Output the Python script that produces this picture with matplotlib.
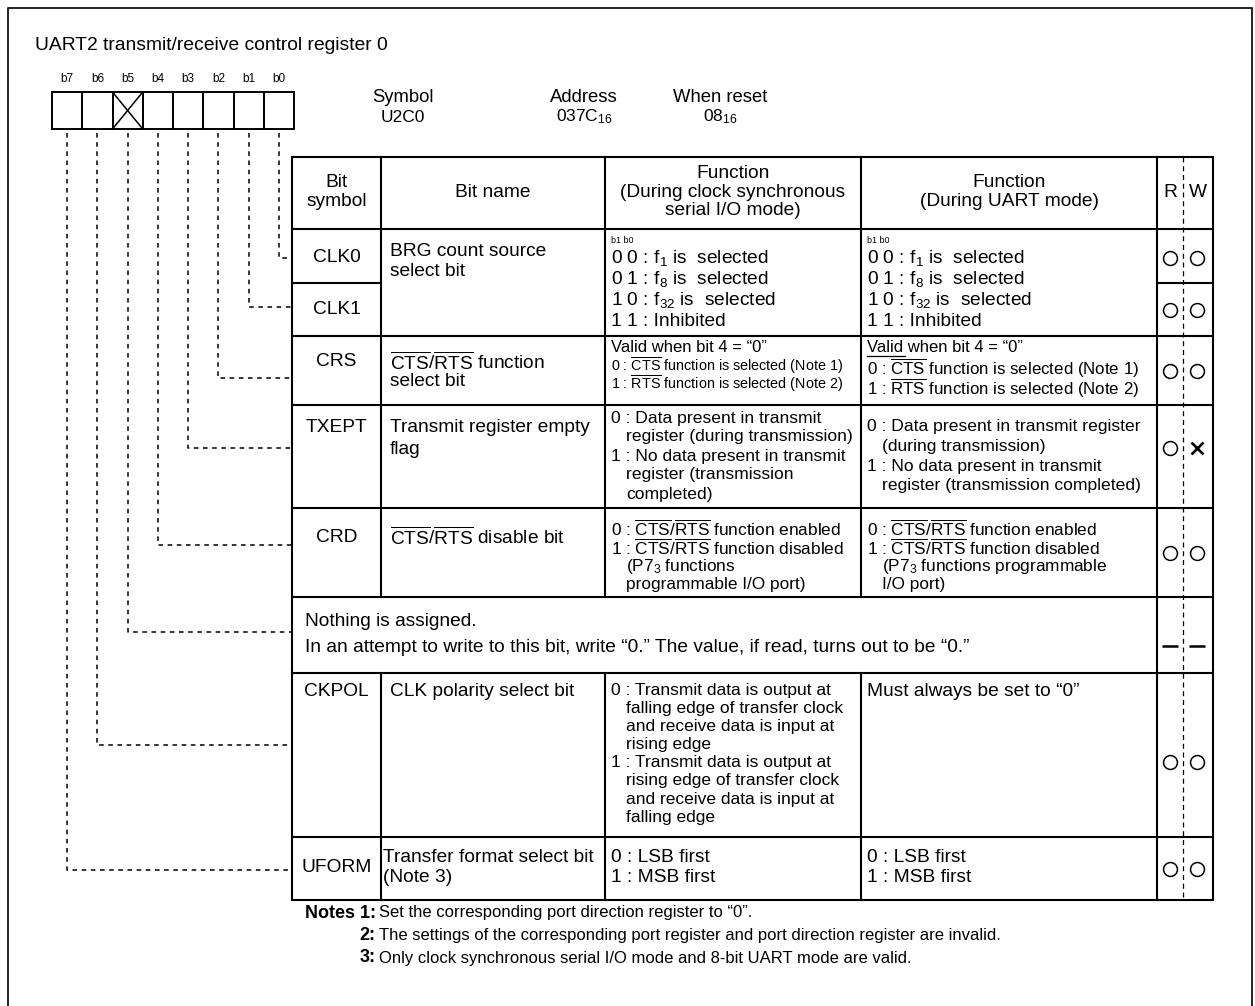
import matplotlib
matplotlib.use('Agg')
from matplotlib import pyplot as plt
from matplotlib.patches import Rectangle

plt.rcParams['font.family'] = ['Liberation Sans', 'DejaVu Sans']
plt.rcParams['mathtext.fontset'] = 'custom'
plt.rcParams['mathtext.rm'] = 'Liberation Sans'
plt.rcParams['mathtext.it'] = 'Liberation Sans'
plt.rcParams['mathtext.bf'] = 'Liberation Sans:bold'

CTS = r'$\overline{\mathrm{CTS}}$'
RTS = r'$\overline{\mathrm{RTS}}$'


def f(n):
    return r'$\mathrm{f_{%s}}$' % n


TITLE = 'UART2 transmit/receive control register 0'
BITS = ['b7', 'b6', 'b5', 'b4', 'b3', 'b2', 'b1', 'b0']
RESERVED = 'b5'
HEAD_KEYS = ['Symbol', 'Address', 'When reset']
HEAD_VALUES = ['U2C0', r'037$\mathrm{C_{16}}$', r'0$\mathrm{8_{16}}$']
COL_HEADS = ['Bit\nsymbol', 'Bit name',
             'Function\n(During clock synchronous\nserial I/O mode)',
             'Function\n(During UART mode)']

SYMBOLS = ['CLK0', 'CLK1', 'CRS', 'TXEPT', 'CRD', '', 'CKPOL', 'UFORM']
SYMBOL_BITS = ['b0', 'b1', 'b2', 'b3', 'b4', 'b5', 'b6', 'b7']
RW = [('o', 'o'), ('o', 'o'), ('o', 'o'), ('o', 'x'), ('o', 'o'),
      ('-', '-'), ('o', 'o'), ('o', 'o')]

CLK_NAME = ['BRG count source', 'select bit']
CLK_FUNC = ['0 0 : ' + f('1') + ' is  selected',
            '0 1 : ' + f('8') + ' is  selected',
            '1 0 : ' + f('32') + ' is  selected',
            '1 1 : Inhibited']
CRS_NAME = [CTS + '/' + RTS + ' function', 'select bit']
CRS_FUNC = ['Valid when bit 4 = \u201c0\u201d',
            '0 : ' + CTS + ' function is selected (Note 1)',
            '1 : ' + RTS + ' function is selected (Note 2)']
TXEPT_NAME = ['Transmit register empty', 'flag']
TXEPT_SYNC = ['0 : Data present in transmit', 'register (during transmission)',
              '1 : No data present in transmit', 'register (transmission',
              'completed)']
TXEPT_UART = ['0 : Data present in transmit register', '(during transmission)',
              '1 : No data present in transmit',
              'register (transmission completed)']
CRD_NAME = [CTS + '/' + RTS + ' disable bit']
CRD_SYNC = ['0 : ' + CTS + '/' + RTS + ' function enabled',
            '1 : ' + CTS + '/' + RTS + ' function disabled',
            '(P' + r'$\mathrm{7_3}$' + ' functions', 'programmable I/O port)']
CRD_UART = ['0 : ' + CTS + '/' + RTS + ' function enabled',
            '1 : ' + CTS + '/' + RTS + ' function disabled',
            '(P' + r'$\mathrm{7_3}$' + ' functions programmable', 'I/O port)']
NOTHING = ['Nothing is assigned.',
           'In an attempt to write to this bit, write \u201c0.\u201d The value, '
           'if read, turns out to be \u201c0.\u201d']
CKPOL_NAME = ['CLK polarity select bit']
CKPOL_SYNC = ['0 : Transmit data is output at', 'falling edge of transfer clock',
              'and receive data is input at', 'rising edge',
              '1 : Transmit data is output at', 'rising edge of transfer clock',
              'and receive data is input at', 'falling edge']
CKPOL_UART = ['Must always be set to \u201c0\u201d']
UFORM_NAME = ['Transfer format select bit', '(Note 3)']
UFORM_FUNC = ['0 : LSB first', '1 : MSB first']
NOTES = [('Notes 1:', 'Set the corresponding port direction register to \u201c0\u201d.'),
         ('2:', 'The settings of the corresponding port register and port '
                'direction register are invalid.'),
         ('3:', 'Only clock synchronous serial I/O mode and 8-bit UART mode are valid.')]

# layout (pixels, y down)
T_L, C1, C2, C3, C4, C5, T_R = 292, 381, 605, 861, 1157, 1183, 1213
ROW_Y = [157, 229, 283, 336, 405, 508, 597, 673, 837, 900]
SYM_Y = [258, 309, 362, 427, 537, 632, 692, 868]
MARK_Y = [258, 310, 371, 448, 553, 646, 762, 869]
LEAD_Y = [258, 307, 378, 448, 545, 632, 745, 870]
BOX_X0, BOX_W, BOX_T, BOX_B = 52, 30.25, 92, 129
FS = 13.8

fig = plt.figure(figsize=(12.55, 10.06), dpi=100)
ax = fig.add_axes([0, 0, 1, 1])
ax.set_xlim(0, 1255)
ax.set_ylim(1006, 0)
ax.axis('off')

ax.plot([8, 8, 1252, 1252], [1010, 8, 8, 1010], color='#222', lw=1.4)
ax.text(35, 45, TITLE, fontsize=13.9, va='center')


def lines(x, y0, step, texts, size=FS, indent=0, **kw):
    for i, t in enumerate(texts):
        dx = 0
        if indent and not (t[:1].isdigit() and t[1:4].strip().startswith(':')):
            dx = indent
        ax.text(x + dx, y0 + i * step, t, fontsize=size, va='center', **kw)


# bit boxes
for i, b in enumerate(BITS):
    x = BOX_X0 + i * BOX_W
    ax.add_patch(Rectangle((x, BOX_T), BOX_W, BOX_B - BOX_T, fill=False,
                           lw=1.4, ec='black'))
    ax.text(x + BOX_W / 2, 79, b, fontsize=8.5, ha='center', va='center')
    if b == RESERVED:
        ax.plot([x, x + BOX_W], [BOX_T, BOX_B], color='black', lw=1.1)
        ax.plot([x, x + BOX_W], [BOX_B, BOX_T], color='black', lw=1.1)

for k, v, cx in zip(HEAD_KEYS, HEAD_VALUES, [403, 584, 720]):
    ax.text(cx, 97, k, fontsize=13.3, ha='center', va='center')
    ax.text(cx, 117, v, fontsize=12.5, ha='center', va='center')

# leader lines
for b, yl in zip(SYMBOL_BITS, LEAD_Y):
    cx = BOX_X0 + (BITS.index(b) + 0.5) * BOX_W
    ax.plot([cx, cx, T_L], [BOX_B + 4, yl, yl], color='black', lw=1.1,
            ls=(0, (3, 3)))

# table grid
lw = 1.5
ax.add_patch(Rectangle((T_L, ROW_Y[0]), T_R - T_L, ROW_Y[-1] - ROW_Y[0],
                       fill=False, lw=lw, ec='black'))
for y in ROW_Y[1:-1]:
    if y == ROW_Y[2]:
        ax.plot([T_L, C1], [y, y], color='black', lw=lw)
        ax.plot([C4, T_R], [y, y], color='black', lw=lw)
    else:
        ax.plot([T_L, T_R], [y, y], color='black', lw=lw)
for x in [C1, C2, C3]:
    ax.plot([x, x], [ROW_Y[0], ROW_Y[6]], color='black', lw=lw)
    ax.plot([x, x], [ROW_Y[7], ROW_Y[-1]], color='black', lw=lw)
ax.plot([C4, C4], [ROW_Y[0], ROW_Y[-1]], color='black', lw=lw)
ax.plot([C5, C5], [ROW_Y[0], ROW_Y[-1]], color='black', lw=0.9,
        ls=(0, (4, 3)))

# header
for h, (a, b) in zip(COL_HEADS, [(T_L, C1), (C1, C2), (C2, C3), (C3, C4)]):
    ax.text((a + b) / 2, 192, h, fontsize=FS, ha='center', va='center',
            linespacing=1.1, multialignment='center')
ax.text(1170, 192, 'R', fontsize=FS, ha='center', va='center')
ax.text(1198, 192, 'W', fontsize=FS, ha='center', va='center')

# symbols and R/W marks
for s, ys, ym, (r, w) in zip(SYMBOLS, SYM_Y, MARK_Y, RW):
    if s:
        ax.text((T_L + C1) / 2, ys, s, fontsize=FS, ha='center', va='center')
    for xm, m in zip([1170, 1197], [r, w]):
        if m == 'o':
            ax.plot([xm], [ym], marker='o', ms=10, mfc='white', mec='black',
                    mew=1.1)
        elif m == 'x':
            ax.plot([xm], [ym], marker='x', ms=9, mec='black', mew=1.9)
        else:
            ax.plot([xm], [ym], marker='_', ms=11, mec='black', mew=1.8)

# rows
XN, XF, XU = 390, 611, 867
lines(XN, 251, 20, CLK_NAME)
for x in [XF, XU]:
    ax.text(x, 240, 'b1 b0', fontsize=6.5, va='center')
    lines(x, 258, 21, CLK_FUNC)

lines(XN, 362, 20, CRS_NAME)
lines(XF, 347, 18, CRS_FUNC[:1], size=12)
lines(XF, 366, 18, CRS_FUNC[1:], size=10.4)
lines(XU, 347, 20, CRS_FUNC[:1], size=12)
lines(XU, 368, 20, CRS_FUNC[1:], size=12.2)
ax.plot([XU, XU + 38], [356, 356], color='black', lw=0.9)

lines(XN, 428, 22, TXEPT_NAME)
lines(XF, 418, 19, TXEPT_SYNC, size=12.6, indent=15)
lines(XU, 427, 19.5, TXEPT_UART, size=12.6, indent=15)

lines(XN, 537, 20, CRD_NAME)
lines(XF, 529, 18.5, CRD_SYNC, size=12.4, indent=15)
lines(XU, 529, 18.5, CRD_UART, size=12.4, indent=15)

lines(305, 621, 26, NOTHING)

lines(XN, 692, 20, CKPOL_NAME)
lines(XF, 690, 18.2, CKPOL_SYNC, size=12.5, indent=15)
lines(XU, 692, 20, CKPOL_UART)

lines(383, 858, 20, UFORM_NAME)
lines(XF, 858, 20, UFORM_FUNC)
lines(XU, 858, 20, UFORM_FUNC)

# notes
for i, (lab, txt) in enumerate(NOTES):
    y = 913 + i * 22.5
    ax.text(376, y, lab, fontsize=13, fontweight='bold', ha='right', va='center')
    ax.text(379, y, txt, fontsize=12, va='center')

fig.savefig('out.png', dpi=100)
